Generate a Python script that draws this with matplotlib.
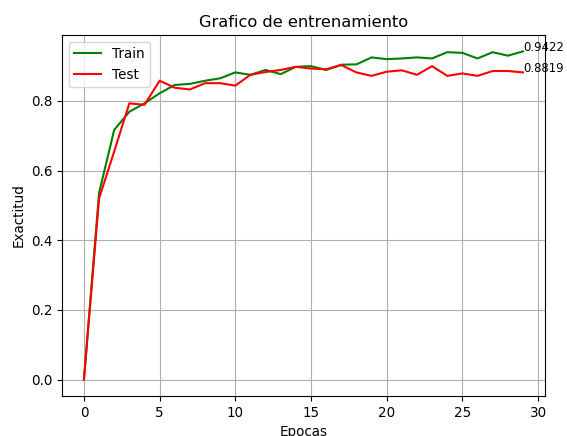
import matplotlib
matplotlib.use("Agg")
import matplotlib.pyplot as plt

epochs = list(range(30))
train_acc = [0.0, 0.536, 0.717, 0.769, 0.793, 0.822, 0.846, 0.849, 0.858, 0.865,
             0.882, 0.875, 0.889, 0.877, 0.898, 0.900, 0.889, 0.904, 0.905, 0.925,
             0.920, 0.922, 0.925, 0.922, 0.940, 0.938, 0.922, 0.940, 0.930, 0.9422]
test_acc = [0.0, 0.520, 0.655, 0.793, 0.789, 0.858, 0.838, 0.833, 0.851, 0.851,
            0.844, 0.875, 0.883, 0.889, 0.898, 0.893, 0.891, 0.903, 0.882, 0.872,
            0.884, 0.888, 0.875, 0.900, 0.872, 0.879, 0.872, 0.886, 0.886, 0.8819]

title = "Grafico de entrenamiento"
xlabel = "Epocas"
ylabel = "Exactitud"

plt.rcParams['font.size'] = 9.75

fig = plt.figure(figsize=(5.67, 4.36), dpi=100)
ax = fig.add_axes([0.1093, 0.0917, 0.961 - 0.1093, 0.9197 - 0.0917])
ax.plot(epochs, train_acc, color='green', label='Train', linewidth=1.5)
ax.plot(epochs, test_acc, color='red', label='Test', linewidth=1.5)
ax.text(epochs[-1], train_acc[-1], f"{train_acc[-1]:.4f}", fontsize=8.4)
ax.text(epochs[-1], test_acc[-1], f"{test_acc[-1]:.4f}", fontsize=8.4)
ax.set_title(title)
ax.set_xlabel(xlabel)
ax.set_ylabel(ylabel)
ax.grid(True)
ax.legend(loc='upper left')
fig.savefig("out.png", dpi=100)
